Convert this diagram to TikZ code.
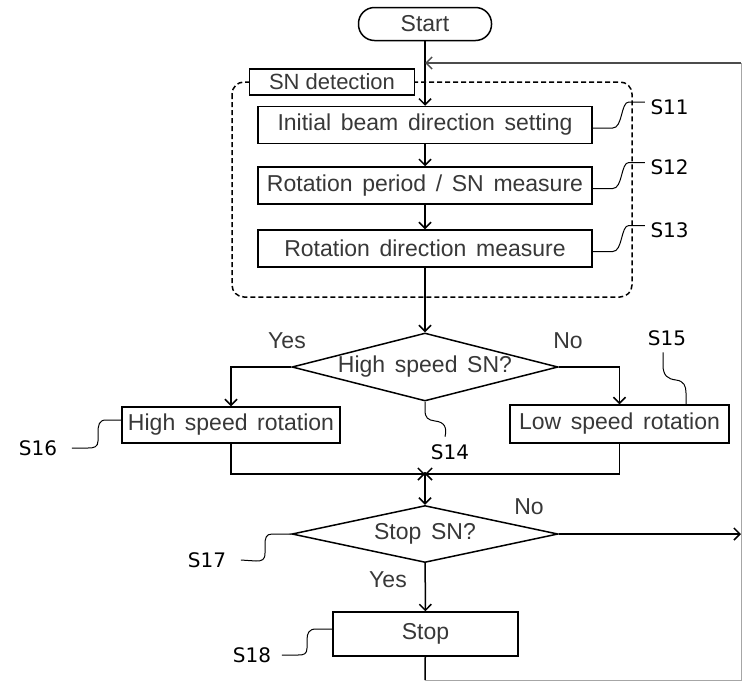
\documentclass[tikz,border=0pt]{standalone}
\usepackage{fontspec}
\setmainfont{Liberation Sans}
\newfontfamily\tagfamily{DejaVu Sans}
\usetikzlibrary{shapes.geometric, arrows.meta, positioning}

\newcommand\flowfont{\fontsize{23}{27}\selectfont\spaceskip=0.42em plus 0.1em minus 0.05em\relax}
\newcommand\plainfont{\fontsize{23}{27}\selectfont}
\newcommand\tagfont{\tagfamily\fontsize{20}{24}\selectfont}

\tikzset{
  process/.style={draw, line width=1.5pt, fill=white, inner sep=1pt, text=black!78, font=\flowfont},
  terminal/.style={process, rounded corners=16pt, font=\plainfont},
  decision/.style={diamond, draw, line width=1.5pt, fill=white, inner sep=0pt, aspect=3.9, text=black!78, font=\flowfont},
  answer/.style={inner sep=0pt, text=black!78, font=\plainfont},
  tag/.style={inner sep=0pt, font=\tagfont},
  squiggle/.style={line width=1pt},
  frame/.style={line width=1.5pt, dash pattern=on 5pt off 3pt, rounded corners=12pt}
}

\begin{document}
\begin{tikzpicture}[x=1pt, y=-1pt, line width=1.5pt, >={Straight Barb[length=6pt, width=12pt]}]
        \useasboundingbox (0,0) rectangle (743,681);

        % SN detection group
        \draw [frame] (232,82) rectangle (632,297);
        \node [process, font=\fontsize{22}{26}\selectfont, minimum width=165pt, minimum height=26pt] (sn) at (332,82) {SN detection};

        \node [terminal, minimum width=133pt, minimum height=33pt] (start) at (425,24) {Start};

        \foreach \n/\y/\t in {11/125/{Initial beam direction setting}, 12/185.5/{Rotation period / SN measure}, 13/248.5/{Rotation direction measure}}
          \node [process, minimum width=334pt, minimum height=37pt] (s\n) at (425,\y) {\t};

        \foreach \n in {11,12,13} {
          \draw [squiggle] ([yshift=-3pt]s\n.east) -- ++(20,0)
            .. controls +(10,0) and +(-8,0) .. ++(16,-26) -- ++(16,0) coordinate (t\n);
          \node [tag, anchor=west] (tag\n) at ([shift={(5pt,-5pt)}]t\n) {S\n};
        }

        % branches
        \node [decision, minimum width=266pt, minimum height=68pt] (d14) at (425,367) {High speed SN?};
        \node [process, minimum width=218pt, minimum height=36pt] (s16) at (231,425) {High speed rotation};
        \node [process, minimum width=219pt, minimum height=38pt] (s15) at (619.5,424) {Low speed rotation};
        \coordinate (join) at (425,474);
        \node [decision, minimum width=266pt, minimum height=57pt] (d17) at (425,534) {Stop SN?};
        \node [process, minimum width=185pt, minimum height=44pt] (s18) at (425.5,634) {Stop};

        \node [answer] (yes14) at (287,341) {Yes};
        \node [answer] (no14) at (568,341) {No};
        \node [answer] (no17) at (529,507) {No};
        \node [answer] (yes17) at (388,580) {Yes};

        % return loop
        \coordinate (loop-a) at (425,680);
        \coordinate (loop-b) at (741,680);
        \coordinate (loop-c) at (741,63);
        \coordinate (loop-d) at (425,63);
        \coordinate (noend) at (741,534);

        \draw [->] (start) -- (s11);
        \draw [->] (s11) -- (s12);
        \draw [->] (s12) -- (s13);
        \draw [->] (s13) -- (d14);
        \draw [->] (d14.west) -| (s16.north);
        \draw [->] (d14.east) -| (s15.north);
        \draw [->] (s16.south) |- (join);
        \draw [->] (s15.south) |- (join);
        \fill (join) circle (2pt);
        \draw [->] (join) -- (d17);
        \draw [->] (d17) -- (s18);
        \draw [->] (d17.east) -- (noend);
        \draw (s18) -- (loop-a);
        \draw [line width=0.8pt, black!35] (loop-a) -- (loop-b) -- (loop-c);
        \draw [->, black!70] (loop-c) -- (loop-d);

        % step tags
        \node [tag] (tag14) at (450,452) {S14};
        \node [tag] (tag15) at (667,338) {S15};
        \node [tag] (tag16) at (38,448) {S16};
        \node [tag] (tag17) at (207,560) {S17};
        \node [tag] (tag18) at (252,655) {S18};

        \draw [squiggle] (d14.south) -- (425,410) .. controls (425,418) and (428,420) .. (435,421)
          .. controls (445,422) and (447,428) .. ([shift={(-5pt,7pt)}]tag14.north);
        \draw [squiggle] ([shift={(-4pt,-6pt)}]tag15.south) -- (663,365) .. controls (663,376) and (668,379) .. (676,380)
          .. controls (684,381) and (686,386) .. (686,393) -- (686,405);
        \draw [squiggle] ([yshift=5pt]s16.west) -- (106,420) .. controls (99,420) and (98,425) .. (98,433) -- (98,441)
          .. controls (98,447) and (94,448) .. (88,448) -- ([xshift=14pt]tag16.east);
        \draw [squiggle] (d17.west) -- (272,534) .. controls (266,534) and (265,538) .. (265,545) -- (265,553)
          .. controls (265,560) and (262,561) .. (256,561) -- ([xshift=14pt]tag17.east);
        \draw [squiggle] ([yshift=5pt]s18.west) -- (316,629) .. controls (309,629) and (307,633) .. (307,640) -- (307,648)
          .. controls (307,654) and (304,655) .. (298,655) -- ([xshift=10pt]tag18.east);

\end{tikzpicture}
\end{document}
